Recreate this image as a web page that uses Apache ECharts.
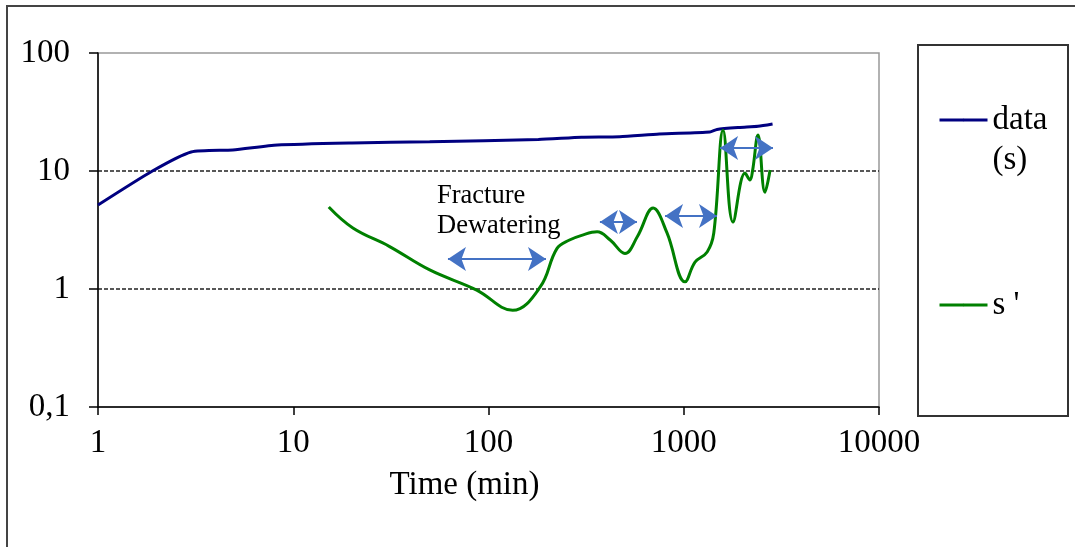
<!DOCTYPE html>
<html>
<head>
<meta charset="utf-8">
<script src="https://cdn.jsdelivr.net/npm/echarts@6/dist/echarts.min.js"></script>
<style>
  html, body { margin: 0; padding: 0; background: #fff; }
  #main { width: 1075px; height: 547px; }
</style>
</head>
<body>
<div id="main"></div>
<script>
// drawdown data (s) vs time
var dataTime = [1, 1.9, 3, 4.9, 8.3, 20, 50, 180, 300, 470, 750, 1360, 1480, 1940, 2400, 2850];
var dataS = [5.15, 10, 14.5, 15.1, 16.6, 17.3, 17.7, 18.5, 19.3, 19.5, 20.6, 21.4, 22.5, 23.4, 23.9, 25];

// derivative s'
var derivTime = [15.2, 20.2, 31, 50, 87, 133, 184, 224, 260, 300, 360, 420, 500, 580, 697, 820, 1015, 1142, 1318, 1425, 1590, 1787, 2060, 2184, 2250, 2400, 2606, 2767];
var derivS = [4.95, 3.29, 2.3, 1.45, 0.98, 0.66, 1.04, 2.2, 2.6, 2.85, 3.05, 2.6, 2.0, 2.8, 4.85, 3.0, 1.15, 1.69, 2.06, 2.98, 22.2, 3.7, 9.6, 8.4, 10, 20.2, 6.6, 10.2];

// flow-period arrows: [t start, t end, level]
var arrows = [
  [62, 197, 1.8],
  [372, 576, 3.7],
  [802, 1480, 4.16],
  [1535, 2865, 15.7]
];

var FONT = 'Liberation Serif';

function pairs(xs, ys) {
  var out = [];
  for (var i = 0; i < xs.length; i++) out.push([xs[i], ys[i]]);
  return out;
}

var myChart = echarts.init(document.getElementById('main'));

var option = {
  animation: false,
  grid: {
    left: 98, top: 53, right: 196, bottom: 140,
    show: true,
    borderColor: '#999',
    borderWidth: 1.5
  },
  xAxis: {
    type: 'log',
    logBase: 10,
    min: 1,
    max: 10000,
    name: 'Time (min)',
    nameLocation: 'middle',
    nameGap: 62,
    nameTextStyle: { fontFamily: FONT, fontSize: 33, color: '#000', padding: [0, 48, 0, 0] },
    axisLine: { lineStyle: { color: '#000', width: 1.5 } },
    axisTick: { length: 8, lineStyle: { color: '#000', width: 1.5 } },
    axisLabel: {
      fontFamily: FONT, fontSize: 33, color: '#000', margin: 20,
      formatter: function (v) { return String(v); }
    },
    splitLine: { show: false },
    minorTick: { show: false }
  },
  yAxis: {
    type: 'log',
    logBase: 10,
    min: 0.1,
    max: 100,
    axisLine: { show: true, lineStyle: { color: '#000', width: 1.5 } },
    axisTick: { show: true, length: 9, lineStyle: { color: '#000', width: 1.5 } },
    axisLabel: {
      fontFamily: FONT, fontSize: 33, color: '#000', margin: 28,
      formatter: function (v) { return String(v).replace('.', ','); }
    },
    splitLine: {
      show: true,
      showMinLine: false,
      showMaxLine: false,
      lineStyle: { color: '#222', width: 1.5, type: [4, 2] }
    },
    minorTick: { show: false }
  },
  legend: [{
    data: ['data (s)'],
    orient: 'vertical',
    left: 938,
    top: 60,
    padding: 0,
    itemWidth: 48,
    itemHeight: 3,
    lineStyle: { width: 3 },
    formatter: function () { return ' \ndata\n(s)'; },
    textStyle: { fontFamily: FONT, fontSize: 33, color: '#000', lineHeight: 40 }
  }, {
    data: ["s '"],
    orient: 'vertical',
    left: 938,
    top: 285,
    padding: 0,
    itemWidth: 48,
    itemHeight: 3,
    lineStyle: { width: 3 },
    textStyle: { fontFamily: FONT, fontSize: 33, color: '#000', lineHeight: 40 }
  }],
  graphic: [
    {
      type: 'rect', z: -10, silent: true,
      shape: { x: 7, y: 6, width: 1100, height: 600 },
      style: { fill: 'none', stroke: '#444', lineWidth: 2 }
    },
    {
      type: 'rect', silent: true,
      shape: { x: 918, y: 45, width: 150, height: 371 },
      style: { fill: 'none', stroke: '#333', lineWidth: 2 }
    },
    {
      type: 'text', left: 437, top: 181, silent: true,
      style: { text: 'Fracture\nDewatering', font: '26.5px "Liberation Serif"', fill: '#000', lineHeight: 30 }
    }
  ],
  series: [{
    name: 'data (s)',
    type: 'line',
    data: pairs(dataTime, dataS),
    symbol: 'none',
    smooth: 0.2,
    lineStyle: { color: '#000080', width: 3 },
    itemStyle: { color: '#000080' }
  }, {
    name: "s '",
    type: 'line',
    data: pairs(derivTime, derivS),
    symbol: 'none',
    smooth: 0.4,
    lineStyle: { color: '#008000', width: 3 },
    itemStyle: { color: '#008000' },
    markLine: {
      silent: true,
      symbol: ['arrow', 'arrow'],
      symbolSize: 18,
      label: { show: false },
      lineStyle: { color: '#4472C4', width: 2, type: 'solid' },
      emphasis: { disabled: true },
      data: arrows.map(function (a) {
        return [{ coord: [a[0], a[2]] }, { coord: [a[1], a[2]] }];
      })
    }
  }]
};

myChart.setOption(option);
</script>
</body>
</html>
